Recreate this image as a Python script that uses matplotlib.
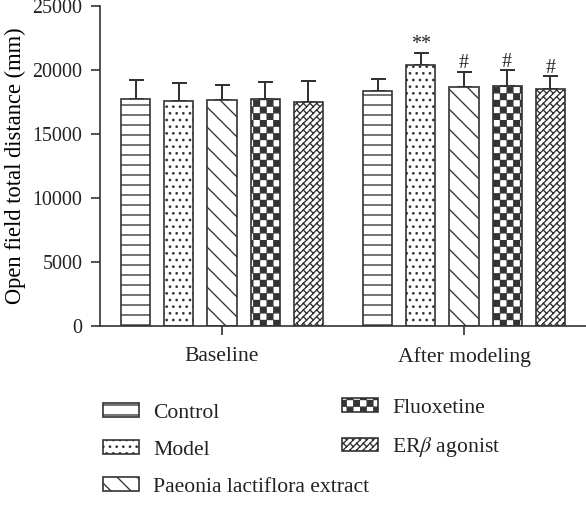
import warnings
import numpy as np
import matplotlib
matplotlib.use('Agg')
import matplotlib.pyplot as plt
from matplotlib import hatch as mhatch
from matplotlib.path import Path

warnings.filterwarnings('ignore')

# data
groups = ['Baseline', 'After modeling']
treatments = ['Control', 'Model', 'Paeonia lactiflora extract', 'Fluoxetine', 'ER$\\beta$ agonist']
baseline_mean = [17730, 17580, 17680, 17730, 17530]
baseline_err = [1490, 1430, 1150, 1360, 1640]
after_mean = [18390, 20390, 18650, 18780, 18490]
after_err = [910, 960, 1220, 1220, 1040]
after_marks = ['', '**', '#', '#', '#']
yticks = [0, 5000, 10000, 15000, 20000, 25000]


# extra hatch patterns: 'c' = checkerboard, 'b' = diagonal bricks
class CheckerHatch(mhatch.HatchPatternBase):
    def __init__(self, hatch, density):
        self.n = 6 * hatch.count('c')
        self.num_vertices = (self.n * self.n // 2) * 5

    def set_vertices_and_codes(self, vertices, codes):
        s = 1.0 / self.n
        d = 0.004
        k = 0
        for i in range(self.n):
            for j in range(self.n):
                if (i + j) % 2:
                    continue
                x0, y0, x1, y1 = i * s + d, j * s + d, (i + 1) * s - d, (j + 1) * s - d
                vertices[k:k + 5] = [(x0, y0), (x1, y0), (x1, y1), (x0, y1), (x0, y0)]
                codes[k:k + 5] = [Path.MOVETO, Path.LINETO, Path.LINETO, Path.LINETO, Path.CLOSEPOLY]
                k += 5


class BrickHatch(mhatch.HatchPatternBase):
    def __init__(self, hatch, density):
        m = 3 * hatch.count('b')
        segs = []
        if m:
            t = 1.0 / m
            h = t / 2
            for j in range(-2 * m, 2 * m + 1):
                b = j * h
                segs.append(((0, b), (1, 1 + b)))
            for g in range(-2 * m, 2 * m):
                for k in range(-1, 2 * m + 2):
                    c = (g % 2) * t / 2 + k * t
                    p0 = ((c - g * h) / 2, (c + g * h) / 2)
                    p1 = ((c - (g + 1) * h) / 2, (c + (g + 1) * h) / 2)
                    segs.append((p0, p1))
        self.segs = segs
        self.num_vertices = 2 * len(segs)

    def set_vertices_and_codes(self, vertices, codes):
        for i, (p0, p1) in enumerate(self.segs):
            vertices[2 * i] = p0
            vertices[2 * i + 1] = p1
            codes[2 * i] = Path.MOVETO
            codes[2 * i + 1] = Path.LINETO


mhatch._hatch_types.append(CheckerHatch)
mhatch._hatch_types.append(BrickHatch)

plt.rcParams['font.family'] = ['Liberation Serif', 'DejaVu Serif']
plt.rcParams['mathtext.fontset'] = 'stix'
plt.rcParams['hatch.linewidth'] = 0.8
plt.rcParams['hatch.color'] = '#1a1a1a'

hatches = ['--', '...', '\\\\', 'ccc', 'bbb']
edge = '#333333'
txt = '#222222'

fig = plt.figure(figsize=(586 / 120, 514 / 120), dpi=120)
ax = fig.add_axes([100 / 586, 188 / 514, 486 / 586, 320 / 514])

x = np.arange(len(groups))
offset = 0.178
width = 0.12
means = [baseline_mean, after_mean]
errs = [baseline_err, after_err]

bars = []
for i, name in enumerate(treatments):
    pos = x + (i - 2) * offset
    vals = [means[0][i], means[1][i]]
    e = [errs[0][i], errs[1][i]]
    b = ax.bar(pos, vals, width, color='white', edgecolor=edge, linewidth=1.0,
               hatch=hatches[i], label=name, zorder=2)
    ax.errorbar(pos, vals, yerr=[[0, 0], e], fmt='none', ecolor=edge,
                elinewidth=1.2, capsize=4.5, capthick=1.2, zorder=1)
    if after_marks[i]:
        ax.annotate(after_marks[i], (pos[1], vals[1] + e[1]), xytext=(0, -1),
                    textcoords='offset points', ha='center', va='bottom',
                    fontsize=12, color=txt)
    bars.append(b)

ax.set_xlim(-0.504, 1.504)
ax.set_ylim(0, 25000)
ax.set_yticks(yticks)
ax.set_xticks(x)
ax.set_xticklabels(groups, fontsize=13)
ax.set_ylabel('Open field total distance (mm)', fontsize=13.5, labelpad=4)
ax.tick_params(axis='both', length=5.5, width=1.0, color=edge, labelcolor=txt, pad=5)
ax.tick_params(axis='x', pad=7)
ax.tick_params(axis='y', labelsize=12)
for s in ['top', 'right']:
    ax.spines[s].set_visible(False)
for s in ['left', 'bottom']:
    ax.spines[s].set_color(edge)
    ax.spines[s].set_linewidth(1.0)

leg_kw = dict(frameon=False, fontsize=13, handlelength=1.66, handleheight=0.6,
              handletextpad=0.65, labelspacing=0.81, borderpad=0, borderaxespad=0,
              loc='upper left')
leg1 = fig.legend(bars[:3], treatments[:3], bbox_to_anchor=(103 / 586, 1 - 403 / 514), **leg_kw)
leg2 = fig.legend(bars[3:], treatments[3:], bbox_to_anchor=(342 / 586, 1 - 398 / 514), **leg_kw)
for leg in (leg1, leg2):
    for t in leg.get_texts():
        t.set_color(txt)

fig.savefig('out.png', dpi=120)
